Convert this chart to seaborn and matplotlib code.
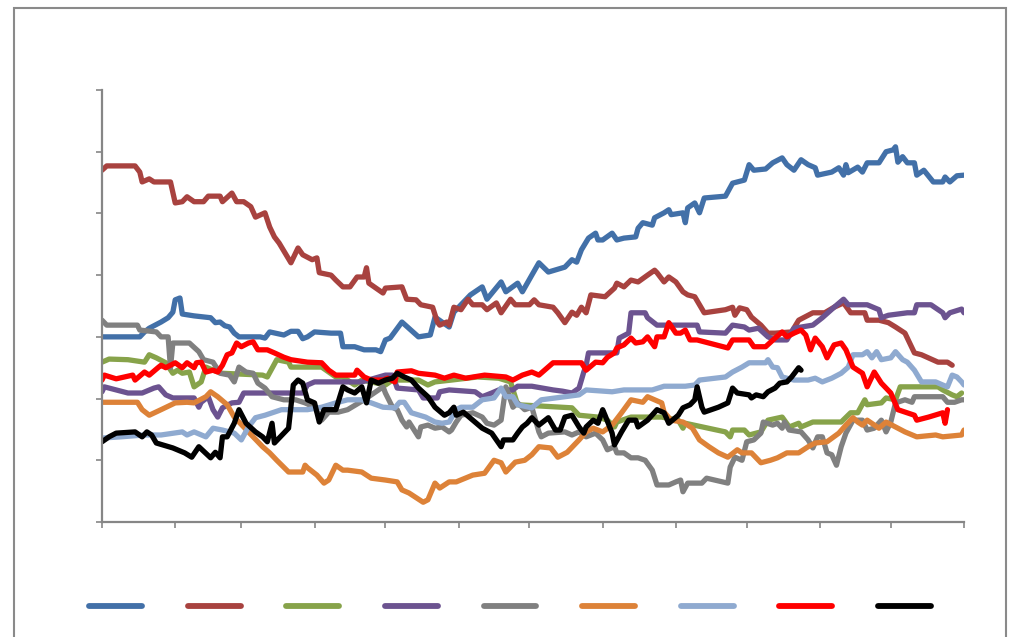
import numpy as np
import pandas as pd
import seaborn as sns
import matplotlib
matplotlib.use("Agg")
import matplotlib.pyplot as plt
from matplotlib.lines import Line2D
from matplotlib.patches import Rectangle

# ---- data: day of year and value for each series ----
blue_days = [0, 16, 18, 20, 25, 28, 30, 31, 33, 34, 39, 46, 48, 50, 52, 54, 56, 58, 67, 69, 71, 77, 80, 83, 85, 87, 90, 97, 101, 102, 107, 111, 116, 118, 120, 122, 127, 134, 139, 141, 147, 149, 156, 161, 163, 169, 171, 176, 178, 182, 185, 189, 196, 199, 201, 203, 206, 209, 210, 212, 216, 218, 221, 226, 227, 229, 233, 234, 238, 240, 241, 246, 247, 248, 251, 253, 255, 264, 267, 272, 274, 276, 281, 284, 288, 290, 293, 296, 299, 302, 303, 309, 312, 314, 315, 316, 320, 322, 324, 329, 332, 335, 336, 337, 339, 341, 344, 345, 348, 352, 356, 357, 359, 362, 365]
blue_vals = [3.00, 3.00, 3.08, 3.14, 3.24, 3.31, 3.40, 3.60, 3.63, 3.37, 3.34, 3.31, 3.23, 3.24, 3.18, 3.16, 3.06, 3.00, 3.00, 2.98, 3.08, 3.03, 3.09, 3.09, 2.97, 3.00, 3.08, 3.06, 3.06, 2.84, 2.84, 2.79, 2.79, 2.76, 2.95, 2.98, 3.24, 3.00, 3.03, 3.32, 3.16, 3.40, 3.68, 3.81, 3.61, 3.89, 3.73, 3.87, 3.73, 4.00, 4.20, 4.05, 4.13, 4.25, 4.21, 4.41, 4.60, 4.68, 4.57, 4.57, 4.68, 4.57, 4.60, 4.62, 4.76, 4.85, 4.81, 4.93, 5.01, 5.06, 4.98, 5.01, 4.85, 5.09, 5.17, 5.01, 5.25, 5.28, 5.49, 5.54, 5.79, 5.70, 5.72, 5.82, 5.90, 5.79, 5.70, 5.87, 5.79, 5.74, 5.62, 5.67, 5.74, 5.62, 5.79, 5.66, 5.75, 5.67, 5.82, 5.82, 6.00, 6.03, 6.08, 5.83, 5.92, 5.82, 5.82, 5.62, 5.70, 5.51, 5.51, 5.59, 5.51, 5.61, 5.62]

brown_days = [0, 2, 14, 16, 17, 20, 22, 29, 31, 34, 36, 39, 43, 45, 50, 51, 55, 57, 60, 63, 65, 69, 71, 73, 75, 80, 83, 85, 89, 91, 92, 97, 99, 102, 105, 108, 111, 112, 113, 119, 120, 127, 129, 133, 135, 140, 142, 143, 146, 147, 149, 152, 155, 157, 161, 163, 167, 169, 173, 175, 181, 183, 185, 191, 193, 196, 199, 201, 203, 205, 207, 213, 217, 218, 221, 224, 227, 231, 234, 235, 238, 240, 243, 246, 248, 251, 255, 264, 267, 268, 270, 273, 275, 279, 282, 285, 292, 295, 301, 306, 310, 314, 317, 323, 324, 329, 333, 336, 340, 344, 347, 354, 358, 360]
brown_vals = [5.70, 5.77, 5.77, 5.67, 5.51, 5.56, 5.51, 5.51, 5.17, 5.19, 5.27, 5.19, 5.19, 5.28, 5.28, 5.19, 5.33, 5.19, 5.19, 5.11, 4.94, 5.01, 4.78, 4.62, 4.52, 4.20, 4.44, 4.33, 4.25, 4.28, 4.04, 4.00, 3.92, 3.81, 3.81, 3.97, 3.97, 4.12, 3.87, 3.71, 3.79, 3.81, 3.61, 3.60, 3.52, 3.48, 3.24, 3.19, 3.24, 3.19, 3.48, 3.44, 3.61, 3.52, 3.52, 3.44, 3.55, 3.39, 3.61, 3.52, 3.52, 3.60, 3.52, 3.48, 3.39, 3.23, 3.40, 3.35, 3.48, 3.39, 3.68, 3.65, 3.79, 3.87, 3.81, 3.92, 3.89, 4.00, 4.08, 4.04, 3.89, 3.97, 3.89, 3.73, 3.68, 3.65, 3.39, 3.44, 3.48, 3.35, 3.47, 3.44, 3.32, 3.19, 3.06, 3.06, 3.08, 3.27, 3.39, 3.39, 3.48, 3.55, 3.39, 3.39, 3.27, 3.27, 3.23, 3.16, 3.06, 2.74, 2.71, 2.59, 2.59, 2.54]

green_days = [0, 3, 11, 18, 20, 23, 27, 30, 32, 34, 37, 39, 42, 44, 47, 51, 68, 70, 74, 79, 80, 93, 96, 99, 102, 107, 110, 114, 120, 123, 134, 138, 141, 148, 159, 168, 173, 176, 199, 202, 210, 214, 217, 218, 224, 237, 244, 246, 247, 264, 266, 267, 272, 274, 279, 282, 288, 291, 295, 296, 301, 313, 317, 320, 323, 324, 330, 332, 336, 338, 354, 356, 360, 362, 364]
green_vals = [2.59, 2.64, 2.63, 2.59, 2.71, 2.66, 2.58, 2.41, 2.46, 2.41, 2.43, 2.19, 2.27, 2.51, 2.46, 2.41, 2.38, 2.35, 2.63, 2.59, 2.51, 2.51, 2.43, 2.35, 2.35, 2.22, 2.30, 2.27, 2.22, 2.30, 2.30, 2.22, 2.27, 2.30, 2.35, 2.33, 2.27, 1.90, 1.85, 1.73, 1.70, 1.65, 1.54, 1.62, 1.70, 1.70, 1.65, 1.52, 1.60, 1.46, 1.38, 1.49, 1.49, 1.41, 1.46, 1.65, 1.70, 1.54, 1.60, 1.54, 1.62, 1.62, 1.77, 1.77, 1.98, 1.90, 1.93, 2.01, 1.98, 2.19, 2.19, 2.14, 2.06, 2.03, 2.09]

purple_days = [0, 1, 11, 17, 22, 24, 27, 30, 39, 41, 42, 45, 47, 49, 51, 55, 58, 60, 85, 87, 90, 110, 120, 123, 125, 134, 136, 142, 143, 147, 158, 161, 165, 168, 174, 176, 182, 191, 195, 199, 202, 204, 205, 206, 218, 219, 223, 224, 230, 231, 235, 252, 253, 264, 267, 272, 274, 278, 282, 285, 290, 293, 301, 305, 310, 314, 316, 324, 329, 330, 333, 341, 344, 345, 351, 356, 357, 359, 364, 365]
purple_vals = [2.11, 2.19, 2.09, 2.09, 2.17, 2.19, 2.06, 2.01, 2.01, 1.86, 1.94, 2.03, 1.82, 1.70, 1.85, 1.93, 1.94, 2.09, 2.09, 2.22, 2.27, 2.27, 2.38, 2.38, 2.17, 2.14, 2.01, 2.01, 2.11, 2.14, 2.11, 2.03, 2.09, 2.14, 2.14, 2.20, 2.20, 2.14, 2.12, 2.09, 2.17, 2.43, 2.54, 2.74, 2.74, 2.98, 3.06, 3.39, 3.39, 3.31, 3.19, 3.19, 3.08, 3.06, 3.19, 3.16, 3.11, 3.14, 3.00, 2.95, 2.95, 3.14, 3.19, 3.31, 3.48, 3.61, 3.52, 3.52, 3.44, 3.31, 3.35, 3.39, 3.39, 3.52, 3.52, 3.39, 3.31, 3.39, 3.45, 3.39]

gray_days = [0, 2, 15, 16, 23, 25, 28, 29, 30, 37, 41, 43, 47, 50, 54, 56, 58, 61, 64, 66, 69, 72, 77, 82, 86, 90, 93, 96, 100, 104, 111, 119, 120, 123, 125, 127, 129, 130, 133, 134, 135, 138, 141, 144, 147, 148, 150, 152, 157, 161, 163, 166, 169, 171, 172, 174, 176, 179, 182, 185, 186, 189, 196, 199, 202, 205, 209, 212, 214, 217, 218, 221, 224, 227, 230, 233, 235, 240, 243, 245, 246, 248, 254, 256, 265, 266, 268, 271, 273, 276, 279, 280, 284, 286, 288, 289, 291, 296, 299, 301, 303, 305, 307, 309, 311, 313, 315, 318, 322, 324, 327, 330, 332, 334, 336, 340, 343, 344, 356, 358, 361, 364, 365]
gray_vals = [3.27, 3.19, 3.19, 3.11, 3.08, 3.00, 3.00, 2.50, 2.90, 2.90, 2.76, 2.63, 2.59, 2.41, 2.38, 2.27, 2.51, 2.43, 2.41, 2.25, 2.17, 2.03, 1.98, 1.98, 1.93, 1.86, 1.65, 1.78, 1.78, 1.82, 1.98, 2.19, 2.09, 1.86, 1.82, 1.65, 1.54, 1.62, 1.44, 1.38, 1.54, 1.57, 1.52, 1.54, 1.46, 1.49, 1.62, 1.73, 1.77, 1.70, 1.60, 1.57, 1.65, 2.19, 2.09, 1.86, 1.93, 1.82, 1.86, 1.46, 1.38, 1.44, 1.46, 1.41, 1.46, 1.38, 1.44, 1.33, 1.17, 1.22, 1.12, 1.12, 1.04, 1.04, 1.00, 0.84, 0.60, 0.60, 0.65, 0.68, 0.49, 0.63, 0.63, 0.71, 0.63, 0.89, 1.05, 1.00, 1.30, 1.33, 1.44, 1.62, 1.57, 1.60, 1.52, 1.62, 1.49, 1.46, 1.33, 1.20, 1.38, 1.38, 1.12, 1.09, 0.92, 1.22, 1.44, 1.65, 1.65, 1.49, 1.52, 1.65, 1.46, 1.62, 1.93, 1.98, 1.94, 2.03, 2.03, 1.94, 1.94, 1.98, 1.98]

orange_days = [0, 15, 17, 20, 25, 31, 36, 39, 44, 46, 49, 53, 56, 60, 64, 68, 71, 74, 79, 85, 86, 87, 91, 94, 96, 99, 102, 104, 110, 114, 120, 125, 127, 130, 136, 138, 141, 143, 147, 150, 157, 162, 166, 169, 171, 175, 179, 182, 185, 190, 193, 197, 202, 205, 208, 212, 216, 220, 224, 229, 231, 234, 237, 238, 241, 246, 250, 253, 257, 261, 265, 269, 271, 275, 279, 283, 286, 290, 295, 299, 302, 307, 312, 315, 318, 320, 322, 324, 329, 332, 336, 340, 345, 353, 356, 364, 365]
orange_vals = [1.94, 1.94, 1.82, 1.73, 1.82, 1.93, 1.94, 1.93, 2.03, 2.11, 2.03, 1.90, 1.70, 1.54, 1.38, 1.22, 1.12, 1.00, 0.81, 0.81, 0.92, 0.88, 0.76, 0.63, 0.68, 0.92, 0.84, 0.84, 0.81, 0.71, 0.68, 0.65, 0.52, 0.47, 0.32, 0.36, 0.63, 0.55, 0.65, 0.65, 0.76, 0.79, 1.00, 0.96, 0.81, 0.97, 1.00, 1.09, 1.22, 1.20, 1.05, 1.13, 1.33, 1.46, 1.52, 1.46, 1.57, 1.77, 1.98, 1.94, 2.03, 1.98, 1.93, 1.78, 1.65, 1.62, 1.52, 1.33, 1.22, 1.12, 1.05, 1.17, 1.12, 1.12, 0.96, 1.00, 1.04, 1.12, 1.12, 1.22, 1.28, 1.30, 1.44, 1.57, 1.69, 1.62, 1.57, 1.65, 1.52, 1.62, 1.54, 1.46, 1.38, 1.41, 1.38, 1.41, 1.49]

lightblue_days = [0, 8, 18, 25, 34, 36, 39, 44, 47, 51, 56, 59, 62, 65, 69, 76, 87, 93, 99, 104, 110, 114, 119, 124, 126, 128, 131, 137, 141, 144, 147, 150, 152, 157, 161, 166, 169, 171, 174, 176, 182, 186, 196, 202, 205, 216, 221, 233, 238, 247, 251, 253, 264, 267, 271, 274, 281, 282, 284, 286, 288, 293, 299, 302, 305, 309, 313, 316, 318, 322, 324, 326, 328, 330, 334, 336, 339, 341, 344, 347, 353, 356, 358, 360, 362, 364, 365]
lightblue_vals = [1.36, 1.38, 1.41, 1.41, 1.46, 1.41, 1.46, 1.38, 1.52, 1.49, 1.44, 1.33, 1.54, 1.69, 1.73, 1.82, 1.82, 1.86, 1.93, 1.98, 1.98, 1.93, 1.86, 1.85, 1.94, 1.94, 1.77, 1.70, 1.62, 1.60, 1.62, 1.82, 1.86, 1.86, 1.98, 2.01, 2.17, 2.03, 2.03, 1.90, 1.85, 1.98, 2.03, 2.06, 2.14, 2.11, 2.14, 2.14, 2.20, 2.20, 2.22, 2.30, 2.35, 2.43, 2.51, 2.58, 2.58, 2.63, 2.51, 2.50, 2.35, 2.30, 2.30, 2.33, 2.27, 2.33, 2.41, 2.51, 2.71, 2.71, 2.76, 2.66, 2.76, 2.63, 2.66, 2.76, 2.63, 2.59, 2.46, 2.27, 2.27, 2.22, 2.19, 2.38, 2.35, 2.27, 2.22]

red_days = [0, 1, 6, 13, 14, 18, 20, 24, 25, 27, 31, 34, 36, 39, 40, 42, 44, 47, 49, 51, 53, 55, 57, 59, 62, 64, 66, 70, 73, 77, 80, 87, 93, 96, 99, 107, 108, 111, 114, 119, 121, 124, 125, 131, 134, 141, 145, 149, 154, 162, 171, 174, 178, 182, 185, 191, 203, 205, 209, 212, 214, 217, 218, 221, 224, 226, 229, 231, 234, 235, 238, 240, 243, 245, 247, 249, 252, 257, 265, 267, 274, 276, 281, 285, 288, 290, 293, 296, 298, 300, 302, 305, 307, 310, 313, 315, 318, 322, 324, 327, 330, 334, 337, 344, 345, 350, 356, 357, 358]
red_vals = [2.30, 2.38, 2.32, 2.38, 2.30, 2.43, 2.38, 2.51, 2.54, 2.50, 2.58, 2.50, 2.58, 2.50, 2.58, 2.59, 2.43, 2.46, 2.43, 2.54, 2.71, 2.74, 2.90, 2.84, 2.90, 2.92, 2.79, 2.79, 2.74, 2.67, 2.63, 2.59, 2.58, 2.46, 2.38, 2.38, 2.46, 2.35, 2.30, 2.30, 2.33, 2.27, 2.43, 2.45, 2.41, 2.38, 2.33, 2.38, 2.33, 2.38, 2.35, 2.30, 2.38, 2.43, 2.38, 2.58, 2.58, 2.46, 2.59, 2.58, 2.67, 2.74, 2.82, 2.87, 2.98, 2.90, 2.92, 3.00, 2.84, 3.00, 3.00, 3.23, 3.06, 3.06, 3.11, 2.95, 2.95, 2.90, 2.82, 2.95, 2.95, 2.84, 2.84, 2.98, 3.08, 3.00, 3.06, 3.11, 3.03, 2.79, 2.98, 2.84, 2.66, 2.87, 2.90, 2.79, 2.51, 2.41, 2.19, 2.43, 2.25, 2.09, 1.82, 1.73, 1.65, 1.70, 1.77, 1.60, 1.82]

black_days = [0, 3, 6, 14, 17, 19, 21, 23, 30, 35, 38, 41, 46, 48, 50, 51, 53, 56, 58, 61, 65, 68, 70, 72, 73, 79, 81, 83, 85, 87, 90, 92, 94, 99, 102, 104, 107, 110, 112, 114, 117, 120, 123, 125, 128, 131, 134, 138, 141, 145, 147, 149, 150, 153, 157, 161, 165, 169, 170, 174, 176, 178, 180, 182, 185, 189, 192, 194, 196, 199, 202, 204, 205, 208, 210, 212, 213, 216, 217, 220, 223, 226, 227, 231, 235, 238, 240, 244, 246, 249, 251, 252, 254, 255, 261, 265, 267, 269, 274, 275, 277, 280, 282, 285, 287, 290, 292, 295, 296]
black_vals = [1.30, 1.38, 1.44, 1.46, 1.38, 1.46, 1.41, 1.28, 1.20, 1.12, 1.05, 1.22, 1.04, 1.13, 1.04, 1.38, 1.38, 1.60, 1.82, 1.60, 1.46, 1.38, 1.30, 1.60, 1.28, 1.52, 2.22, 2.30, 2.25, 1.98, 1.93, 1.62, 1.82, 1.82, 2.19, 2.14, 2.09, 2.19, 1.93, 2.30, 2.25, 2.30, 2.33, 2.41, 2.35, 2.30, 2.17, 2.03, 1.86, 1.73, 1.77, 1.86, 1.73, 1.78, 1.65, 1.52, 1.44, 1.22, 1.33, 1.33, 1.44, 1.54, 1.60, 1.69, 1.57, 1.69, 1.49, 1.49, 1.70, 1.73, 1.54, 1.44, 1.54, 1.65, 1.60, 1.82, 1.73, 1.44, 1.25, 1.46, 1.65, 1.65, 1.54, 1.65, 1.82, 1.77, 1.60, 1.73, 1.85, 1.90, 1.98, 2.19, 1.86, 1.78, 1.86, 1.93, 2.17, 2.09, 2.06, 2.01, 2.06, 2.03, 2.11, 2.17, 2.25, 2.27, 2.35, 2.50, 2.46]

series_names = ["Series 1", "Series 2", "Series 3", "Series 4", "Series 5",
                "Series 6", "Series 7", "Series 8", "Series 9"]
series_days = [blue_days, brown_days, green_days, purple_days, gray_days,
               orange_days, lightblue_days, red_days, black_days]
series_vals = [blue_vals, brown_vals, green_vals, purple_vals, gray_vals,
               orange_vals, lightblue_vals, red_vals, black_vals]
colors = ["#4270A8", "#A8423F", "#87A34A", "#6C5390", "#808080",
          "#DD8238", "#8FAAD0", "#FF0000", "#000000"]

# month boundaries (days from start of year)
month_starts = [0, 31, 59, 90, 120, 151, 181, 212, 243, 273, 304, 334, 365]
y_ticks = [0, 1, 2, 3, 4, 5, 6, 7]

frames = []
for name, d, v in zip(series_names, series_days, series_vals):
    frames.append(pd.DataFrame({"day": d, "value": v, "series": name}))
df = pd.concat(frames, ignore_index=True)

sns.set_style("white")
fig = plt.figure(figsize=(10.24, 6.37), dpi=100)
ax = fig.add_axes([102 / 1024, 1 - 522 / 637, 862 / 1024, 432 / 637])

sns.lineplot(data=df, x="day", y="value", hue="series", hue_order=series_names,
             palette=colors, estimator=None, sort=True, legend=False,
             linewidth=3.8, ax=ax, solid_joinstyle="round", solid_capstyle="round")

axis_gray = "#868686"
ax.set_xlim(month_starts[0], month_starts[-1])
ax.set_ylim(y_ticks[0], y_ticks[-1])
ax.set_xticks(month_starts)
ax.set_yticks(y_ticks)
ax.tick_params(axis="both", direction="out", length=4, width=1.2, color=axis_gray,
               labelbottom=False, labelleft=False, bottom=True, left=True)
ax.set_xlabel("")
ax.set_ylabel("")
for side in ["top", "right"]:
    ax.spines[side].set_visible(False)
for side in ["left", "bottom"]:
    ax.spines[side].set_color(axis_gray)
    ax.spines[side].set_linewidth(1.6)

# legend with line keys only
handles = [Line2D([0], [0], color=c, linewidth=4.2, solid_capstyle="round") for c in colors]
leg = fig.legend(handles, [""] * len(handles), loc="center", ncol=9,
                 bbox_to_anchor=(510 / 1024, 1 - 607 / 637), frameon=False,
                 handlelength=3.8, handletextpad=0.0, columnspacing=3.3)

# outer chart frame
frame = Rectangle((14 / 1024, -0.05), (1006 - 14) / 1024, 1.05 - 8 / 637,
                  transform=fig.transFigure, fill=False, edgecolor="#8a8a8a",
                  linewidth=1.5, clip_on=False)
fig.patches.append(frame)

fig.savefig("out.png", dpi=100)
